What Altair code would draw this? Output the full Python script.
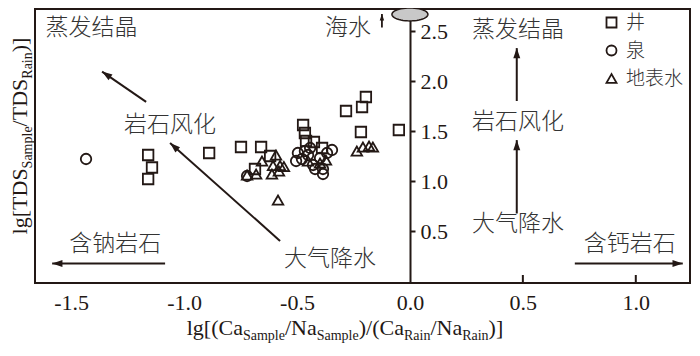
import math
import altair as alt
import pandas as pd

# ---------------- data ----------------
well_x = [-1.159, -1.142, -1.159, -0.889, -0.748, -0.659, -0.619, -0.686, -0.473,
          -0.465, -0.460, -0.425, -0.389, -0.283, -0.212, -0.195, -0.217, -0.049]
well_y = [1.26, 1.135, 1.02, 1.28, 1.34, 1.34, 1.25, 1.12, 1.56,
          1.48, 1.40, 1.39, 1.33, 1.70, 1.74, 1.84, 1.49, 1.51]
spring_x = [-1.434, -0.721, -0.496, -0.478, -0.451, -0.429, -0.398, -0.385,
            -0.345, -0.385, -0.420, -0.465, -0.504, -0.367, -0.442]
spring_y = [1.22, 1.05, 1.28, 1.22, 1.26, 1.16, 1.23, 1.12,
            1.31, 1.07, 1.12, 1.30, 1.20, 1.28, 1.33]
surface_x = [-0.655, -0.593, -0.606, -0.575, -0.558, -0.721, -0.681, -0.611, -0.580,
             -0.584, -0.451, -0.398, -0.372, -0.235, -0.208, -0.181, -0.164]
surface_y = [1.20, 1.26, 1.155, 1.155, 1.145, 1.06, 1.07, 1.07, 1.10,
             0.81, 1.20, 1.18, 1.21, 1.30, 1.34, 1.35, 1.34]
series_names = ["井", "泉", "地表水"]

x_ticks = [-1.5, -1.0, -0.5, 0.0, 0.5, 1.0]
x_inner_ticks = [0.5, 1.0]
y_ticks = [0.5, 1.0, 1.5, 2.0, 2.5]

ann_text = ["蒸发结晶", "岩石风化", "大气降水", "含钠岩石", "海水",
            "蒸发结晶", "岩石风化", "大气降水", "含钙岩石"]
ann_x = [-1.41, -1.062, -0.354, -1.305, -0.274, 0.478, 0.478, 0.478, 0.973]
ann_y = [2.53, 1.556, 0.225, 0.372, 2.53, 2.51, 1.595, 0.567, 0.372]

arrow_x1 = [-1.168, -0.575, -1.084, 0.730, 0.473, 0.473]
arrow_y1 = [1.791, 0.401, 0.176, 0.176, 1.800, 0.675]
arrow_x2 = [-1.363, -1.062, -1.584, 1.208, 0.473, 0.473]
arrow_y2 = [2.094, 1.380, 0.176, 0.176, 2.329, 1.409]

sea_arrow_x1 = [-0.124]
sea_arrow_y1 = [2.534]
sea_arrow_x2 = [-0.124]
sea_arrow_y2 = [2.671]

sea_x = [0.0]
sea_y = [2.666]

# ---------------- layout / style ----------------
W, H = 655, 274
XDOM = [-1.66, 1.24]
YDOM = [-0.02, 2.72]
SX = W / (XDOM[1] - XDOM[0])
SY = H / (YDOM[1] - YDOM[0])
INK = "#231815"
SERIF = "Liberation Serif"
CJK = "Noto Sans CJK SC"

xscale = alt.Scale(domain=XDOM, nice=False, zero=False)
yscale = alt.Scale(domain=YDOM, nice=False, zero=False)

xaxis = alt.Axis(values=x_ticks, title="", domain=False, ticks=False, tickSize=0,
                 labelPadding=9, grid=False,
                 labelExpr="(datum.value < 0 ? '-' : '') + format(abs(datum.value), '.1f')")
yaxis = alt.Axis(values=y_ticks, title="", orient="right",
                 offset=-round(W - (-XDOM[0]) * SX),
                 domain=True, domainColor=INK, domainWidth=2, ticks=True, tickSize=5,
                 tickWidth=2, tickColor=INK, labelPadding=5, format=".1f", grid=False)


def X(f):
    return alt.X(f, type="quantitative", scale=xscale, axis=xaxis)


def Y(f):
    return alt.Y(f, type="quantitative", scale=yscale, axis=yaxis)


# ---------------- points ----------------
rows = []
for name, xs, ys in [("井", well_x, well_y), ("泉", spring_x, spring_y), ("地表水", surface_x, surface_y)]:
    for a, b in zip(xs, ys):
        rows.append({"type": name, "x": a, "y": b})
pts_df = pd.DataFrame(rows)

points = alt.Chart(pts_df).mark_point(filled=False, size=110, strokeWidth=1.8,
                                      color=INK, opacity=1).encode(
    x=X("x"), y=Y("y"),
    shape=alt.Shape("type:N",
                    scale=alt.Scale(domain=series_names,
                                    range=["square", "circle", "triangle-up"]),
                    legend=alt.Legend(orient="none", legendX=567, legendY=4, title="",
                                      labelFont=CJK, labelFontSize=19, labelFontWeight=300,
                                      labelColor="#333333", symbolSize=100,
                                      symbolStrokeWidth=1.8, symbolStrokeColor=INK,
                                      symbolFillColor="transparent", rowPadding=8,
                                      labelOffset=5, padding=0))
)

# ---------------- arrows ----------------
def angles(x1, y1, x2, y2):
    out = []
    for a, b, c, d in zip(x1, y1, x2, y2):
        ang = math.degrees(math.atan2((c - a) * SX, (d - b) * SY))
        out.append(ang % 360)
    return out


arr_df = pd.DataFrame({"x": arrow_x1, "y": arrow_y1, "x2": arrow_x2, "y2": arrow_y2,
                       "angle": angles(arrow_x1, arrow_y1, arrow_x2, arrow_y2)})
sea_arr_df = pd.DataFrame({"x": sea_arrow_x1, "y": sea_arrow_y1, "x2": sea_arrow_x2,
                           "y2": sea_arrow_y2,
                           "angle": angles(sea_arrow_x1, sea_arrow_y1, sea_arrow_x2, sea_arrow_y2)})

HEAD = "M0,0L0.34,1L-0.34,1Z"

shafts = alt.Chart(arr_df).mark_rule(color=INK, strokeWidth=2).encode(
    x=X("x"), y=Y("y"), x2="x2:Q", y2="y2:Q")
heads = alt.Chart(arr_df).mark_point(shape=HEAD, size=420, filled=True, color=INK,
                                     opacity=1, strokeWidth=0).encode(
    x=X("x2"), y=Y("y2"), angle=alt.Angle("angle:Q", scale=None))
sea_shaft = alt.Chart(sea_arr_df).mark_rule(color=INK, strokeWidth=1.8).encode(
    x=X("x"), y=Y("y"), x2="x2:Q", y2="y2:Q")
sea_head = alt.Chart(sea_arr_df).mark_point(shape=HEAD, size=170, filled=True, color=INK,
                                            opacity=1, strokeWidth=0).encode(
    x=X("x2"), y=Y("y2"), angle=alt.Angle("angle:Q", scale=None))

# ---------------- seawater ellipse ----------------
pts = []
for i in range(48):
    t = 2 * math.pi * i / 48
    pts.append(f"{math.cos(t):.4f},{0.36 * math.sin(t):.4f}")
ELLIPSE = "M" + "L".join(pts) + "Z"
sea_df = pd.DataFrame({"x": sea_x, "y": sea_y})
ellipse = alt.Chart(sea_df).mark_point(shape=ELLIPSE, size=1296, filled=True,
                                       fill="#c8c8c8", stroke=INK, strokeWidth=1.5,
                                       opacity=1, fillOpacity=1).encode(
    x=X("x"), y=Y("y"))

# ---------------- inner x ticks ----------------
tick_df = pd.DataFrame({"x": x_inner_ticks, "y": [YDOM[0]] * len(x_inner_ticks),
                        "y2": [YDOM[0] + 8 / SY] * len(x_inner_ticks)})
inner_ticks = alt.Chart(tick_df).mark_rule(color=INK, strokeWidth=2).encode(
    x=X("x"), y=Y("y"), y2="y2:Q")

# ---------------- annotations ----------------
ann_df = pd.DataFrame({"t": ann_text, "x": ann_x, "y": ann_y})
annotations = alt.Chart(ann_df).mark_text(font=CJK, fontSize=23, fontWeight=300,
                                          color="#333333", align="center",
                                          baseline="middle").encode(
    x=X("x"), y=Y("y"), text="t:N")

# ---------------- axis titles with subscripts ----------------
TIMES = {'l': 278, 'g': 500, '[': 333, '(': 333, 'C': 667, 'a': 444, '/': 278,
         'N': 722, ')': 333, ']': 333, 'S': 556, 'm': 778, 'p': 500, 'e': 444,
         'R': 667, 'i': 278, 'n': 500, 'T': 611, 'D': 722}
MAIN, SUB = 22, 14


def twidth(s, size):
    return sum(TIMES.get(ch, 500) for ch in s) / 1000.0 * size


one = pd.DataFrame({"k": [0]})


def seg(text, x, y, size, angle=0):
    return alt.Chart(one).mark_text(text=text, font=SERIF, fontSize=size, align="left",
                                    baseline="alphabetic", angle=angle,
                                    color=INK).encode(x=alt.value(x), y=alt.value(y))


xt = [("lg[(Ca", 0), ("Sample", 1), ("/Na", 0), ("Sample", 1), (")/(Ca", 0),
      ("Rain", 1), ("/Na", 0), ("Rain", 1), (")]", 0)]
tw = sum(twidth(s, SUB if sub else MAIN) for s, sub in xt)
cx = 310 - tw / 2
title_layers = []
for s, sub in xt:
    size = SUB if sub else MAIN
    title_layers.append(seg(s, cx, 331 if sub else 326, size))
    cx += twidth(s, size)

yt = [("lg[TDS", 0), ("Sample", 1), ("/TDS", 0), ("Rain", 1), (")]", 0)]
tw = sum(twidth(s, SUB if sub else MAIN) for s, sub in yt)
cy = 127 + tw / 2
for s, sub in yt:
    size = SUB if sub else MAIN
    title_layers.append(seg(s, -3 if sub else -8, cy, size, angle=270))
    cy -= twidth(s, size)

chart = alt.layer(
    inner_ticks, shafts, heads, sea_shaft, sea_head, annotations, points, ellipse,
    *title_layers
).properties(
    width=W, height=H, autosize="none",
    padding={"left": 27, "top": 1, "right": 1, "bottom": 61},
).configure_view(
    stroke=INK, strokeWidth=2
).configure_axis(
    labelFont=SERIF, labelFontSize=22, labelColor=INK
)

chart.save("out.html", embed_options={"renderer": "svg", "actions": False})
